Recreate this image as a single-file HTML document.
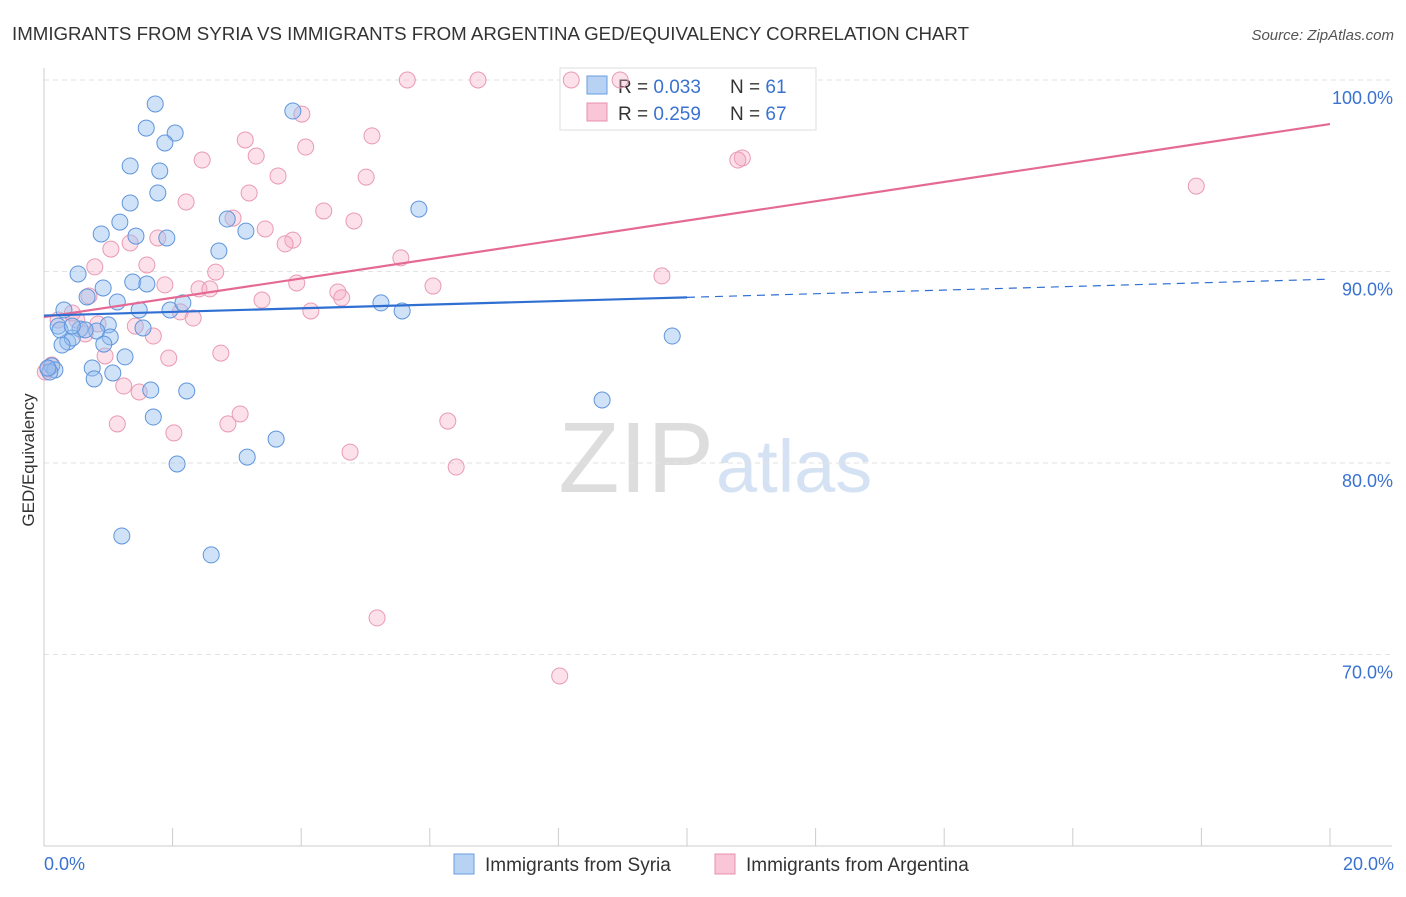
<!DOCTYPE html>
<html><head><meta charset="utf-8"><style>
body{margin:0;background:#fff;font-family:"Liberation Sans",sans-serif;}
svg text{font-family:"Liberation Sans",sans-serif;}
</style></head><body>
<svg id="chart" width="1406" height="892">
<text x="12" y="40" font-size="18.7" fill="#333">IMMIGRANTS FROM SYRIA VS IMMIGRANTS FROM ARGENTINA GED/EQUIVALENCY CORRELATION CHART</text>
<text x="1394" y="40" font-size="15" fill="#555" font-style="italic" text-anchor="end">Source: ZipAtlas.com</text>
<text x="714" y="492" font-size="100" fill="#ddd" text-anchor="end" font-family="Liberation Serif">ZIP</text>
<text x="716" y="492" font-size="74" fill="#d4e2f4">atlas</text>
<g id="grid"></g><g id="axes"></g>
<text x="34" y="460" font-size="17" fill="#333" text-anchor="middle" transform="rotate(-90 34 460)">GED/Equivalency</text>
<g>
<rect x="560" y="68" width="256" height="62" fill="#fff" stroke="#ddd"/>
<rect x="587" y="76" width="20" height="18" fill="#b8d2f4" stroke="#6a9ee0"/>
<text x="618" y="93" font-size="19" fill="#333">R = <tspan fill="#3a72d0">0.033</tspan></text>
<text x="730" y="93" font-size="19" fill="#333">N = <tspan fill="#3a72d0"> 61</tspan></text>
<rect x="587" y="103" width="20" height="18" fill="#f8c6d6" stroke="#e890ab"/>
<text x="618" y="120" font-size="19" fill="#333">R = <tspan fill="#3a72d0">0.259</tspan></text>
<text x="730" y="120" font-size="19" fill="#333">N = <tspan fill="#3a72d0">67</tspan></text>
</g>
<g id="marks"></g>
<g>
<rect x="454" y="854" width="20" height="20" fill="#b8d2f4" stroke="#6a9ee0"/>
<text x="485" y="871" font-size="19" fill="#333">Immigrants from Syria</text>
<rect x="715" y="854" width="20" height="20" fill="#f8c6d6" stroke="#e890ab"/>
<text x="746" y="871" font-size="19" fill="#333">Immigrants from Argentina</text>
</g>
</svg>
<script>
const yTicks=[100,90,80,70];
const yTickLabels=["100.0%","90.0%","80.0%","70.0%"];
const xTickLabels=["0.0%","20.0%"];
const syriaX=[1.73,1.59,2.04,1.88,3.87,1.34,1.80,1.77,1.34,1.18,0.89,1.43,1.91,2.85,3.14,2.72,5.83,0.53,1.38,1.60,0.92,0.67,1.14,0.31,1.48,1.96,2.16,5.24,5.57,1.00,1.54,0.22,0.82,0.56,0.37,0.44,0.28,1.03,0.93,1.26,0.12,0.17,0.75,1.07,0.78,1.66,2.22,1.70,3.61,3.16,2.07,1.21,2.60,8.68,9.77,0.09,0.06,0.25,0.64,0.44];
const syriaY=[98.75,97.49,97.23,96.71,98.38,95.51,95.25,94.10,93.58,92.58,91.96,91.85,91.75,92.74,92.11,91.07,93.26,89.87,89.45,89.35,89.14,88.67,88.41,87.99,87.99,87.99,88.36,88.36,87.94,87.21,87.05,87.15,86.89,87.00,86.32,86.53,86.16,86.58,86.21,85.54,85.07,84.86,84.96,84.70,84.39,83.81,83.76,82.40,81.25,80.31,79.95,76.19,75.20,83.29,86.63,84.75,84.96,86.95,86.95,87.15];
const argX=[5.65,6.75,8.20,8.96,4.01,3.13,5.10,4.07,3.30,2.46,10.86,10.79,5.01,3.64,3.19,2.21,4.35,4.82,2.94,3.44,3.87,3.75,1.04,1.34,1.77,5.55,0.79,1.60,2.67,9.61,1.88,3.93,6.05,2.41,2.58,4.57,4.63,0.70,3.39,4.15,2.12,2.32,0.44,0.22,0.51,0.84,1.42,1.70,0.64,2.75,0.95,1.94,1.24,1.48,3.05,2.86,1.14,2.02,6.28,4.76,6.41,5.18,8.02,17.92,0.06,0.02,0.12];
const argY=[100,100,100,100,98.22,96.87,97.08,96.50,96.03,95.82,95.93,95.82,94.93,94.99,94.10,93.63,93.16,92.64,92.79,92.22,91.64,91.44,91.17,91.49,91.75,90.71,90.24,90.34,89.97,89.77,89.30,89.40,89.24,89.09,89.09,88.93,88.62,88.72,88.51,87.94,87.89,87.57,87.83,87.47,87.47,87.26,87.15,86.63,86.74,85.74,85.59,85.48,84.02,83.71,82.56,82.04,82.04,81.57,82.19,80.57,79.79,71.91,68.88,94.46,84.91,84.75,85.12];
const syriaTrend=[87.7,0.095];
const argTrend=[87.62,0.504];
const NS="http://www.w3.org/2000/svg";
const xs=v=>44+v*64.3, ys=v=>80+(100-v)*19.15;
function mk(tag,attrs,parent){const e=document.createElementNS(NS,tag);for(const k in attrs)e.setAttribute(k,attrs[k]);parent.appendChild(e);return e;}
const grid=document.getElementById('grid'),axes=document.getElementById('axes'),marks=document.getElementById('marks');
yTicks.forEach((t,i)=>{
 const l=mk('line',{x1:44,x2:1392,y1:ys(t),y2:ys(t),stroke:'#e2e2e2','stroke-dasharray':'5,4'},grid);
 
 
 const tx=mk('text',{x:1393,y:ys(t)+24,'font-size':18,fill:'#3a72d0','text-anchor':'end'},axes);
 tx.textContent=yTickLabels[i];
 
 
});
const ax=mk('line',{x1:44,x2:1392,y1:846,y2:846,stroke:'#ccc'},axes);


const ay=mk('line',{x1:44,x2:44,y1:68,y2:846,stroke:'#ccc'},axes);


for(let i=0;i<=10;i++){const t=mk('line',{x1:xs(i*2),x2:xs(i*2),y1:828,y2:846,stroke:'#ccc'},axes);
 
 }
[[0,44,'start'],[20,1394,'end']].forEach((d,i)=>{const t=mk('text',{x:d[1],y:870,'font-size':18,fill:'#3a72d0','text-anchor':d[2]},axes);t.textContent=xTickLabels[i];
 
 });
function pts(X,Y,fill,stroke,name){X.forEach((x,i)=>{const c=mk('circle',{cx:xs(x),cy:ys(Y[i]),r:8,fill:fill,stroke:stroke,'stroke-width':1},marks);
 
 });}
pts(argX,argY,'rgba(245,170,195,0.35)','#e99ab3','point-argentina');
pts(syriaX,syriaY,'rgba(150,190,240,0.45)','#5f95dc','point-syria');
const f=(tr,x)=>tr[0]+tr[1]*x;
const a=mk('line',{x1:xs(0),y1:ys(f(argTrend,0)),x2:xs(20),y2:ys(f(argTrend,20)),stroke:'#e46a95','stroke-width':2.2},marks);


const b=mk('line',{x1:xs(0),y1:ys(f(syriaTrend,0)),x2:xs(10),y2:ys(f(syriaTrend,10)),stroke:'#2f6fd2','stroke-width':2.2},marks);


const b2=mk('line',{x1:xs(10),y1:ys(f(syriaTrend,10)),x2:xs(20),y2:ys(f(syriaTrend,20)),stroke:'#2f6fd2','stroke-width':1.2,'stroke-dasharray':'8,6'},marks);


</script>
</body></html>
